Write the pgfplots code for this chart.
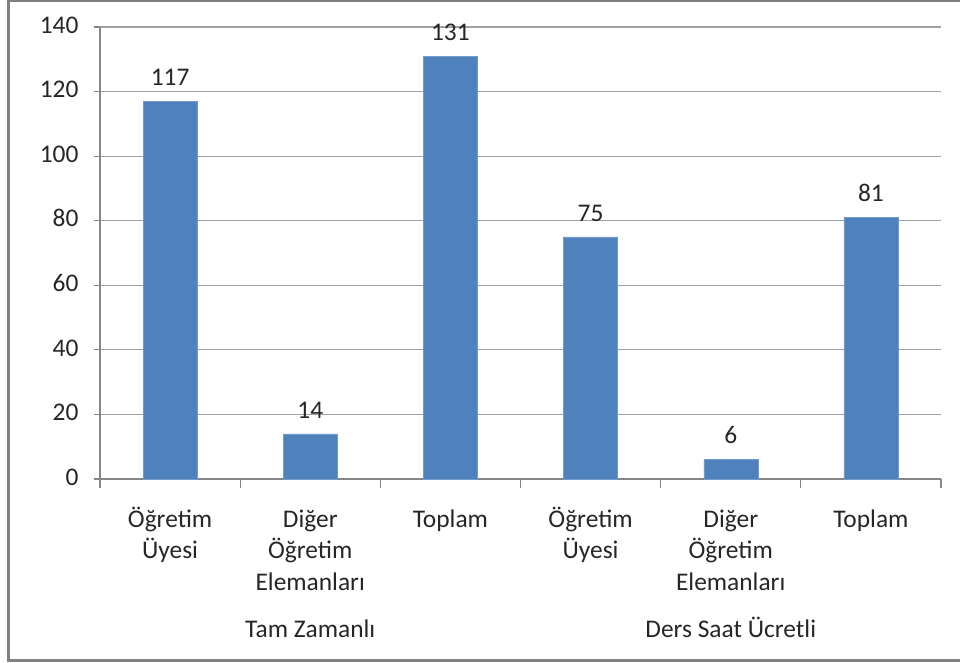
\documentclass[border=0pt]{standalone}
\usepackage{fontspec}
\setmainfont{Carlito}
\usepackage{pgfplots}
\pgfplotsset{compat=1.18}
\definecolor{barblue}{HTML}{4F81BD}
\definecolor{gridgray}{HTML}{A0A0A0}
\definecolor{axgray}{HTML}{868686}
\definecolor{framegray}{HTML}{808080}
\begin{document}
\begin{tikzpicture}
\path[use as bounding box] (0bp,0bp) rectangle (960bp,663bp);
\draw[framegray, line width=3bp] (8bp,2bp) rectangle (975bp,662bp);
\begin{axis}[
  at={(100bp,184bp)}, anchor=south west,
  scale only axis, width=841bp, height=452bp,
  xmin=-0.5, xmax=5.5, ymin=0, ymax=140,
  ytick={0,20,...,140},
  xtick={0,...,5},
  minor xtick={-0.5,0.5,...,5.5},
  xticklabels={{Öğretim\\Üyesi},{Diğer\\Öğretim\\Elemanları},{Toplam},{Öğretim\\Üyesi},{Diğer\\Öğretim\\Elemanları},{Toplam}},
  typeset ticklabels with strut,
  axis x line*=bottom, axis y line*=left,
  axis line style={axgray, line width=1.2bp, -},
  tick align=outside,
  major tick length=6bp, minor tick length=9bp,
  major x tick style={draw=none},
  minor x tick style={axgray, line width=1.2bp},
  ytick style={axgray, line width=1.2bp},
  ymajorgrids, grid style={gridgray, line width=1.2bp},
  tick label style={font=\fontsize{25.5}{31.5}\selectfont, text=black!85},
  xticklabel style={align=center, yshift=-17bp},
  yticklabel style={xshift=-12bp},
  /pgf/number format/assume math mode=true,
  ybar, bar width=54bp,
  nodes near coords,
  every node near coord/.append style={font=\fontsize{25.5}{29}\selectfont, text=black!85, yshift=12bp},
  clip=false,
]
\addplot[fill=barblue, draw=barblue!80!white] coordinates {(0,117) (1,14) (2,131) (3,75) (4,6) (5,81)};
\node[font=\fontsize{25.5}{29}\selectfont, text=black!85, anchor=base] at (axis cs:1,0) [yshift=-158bp] {Tam Zamanlı};
\node[font=\fontsize{25.5}{29}\selectfont, text=black!85, anchor=base] at (axis cs:4,0) [yshift=-158bp] {Ders Saat Ücretli};
\end{axis}
\end{tikzpicture}
\end{document}
